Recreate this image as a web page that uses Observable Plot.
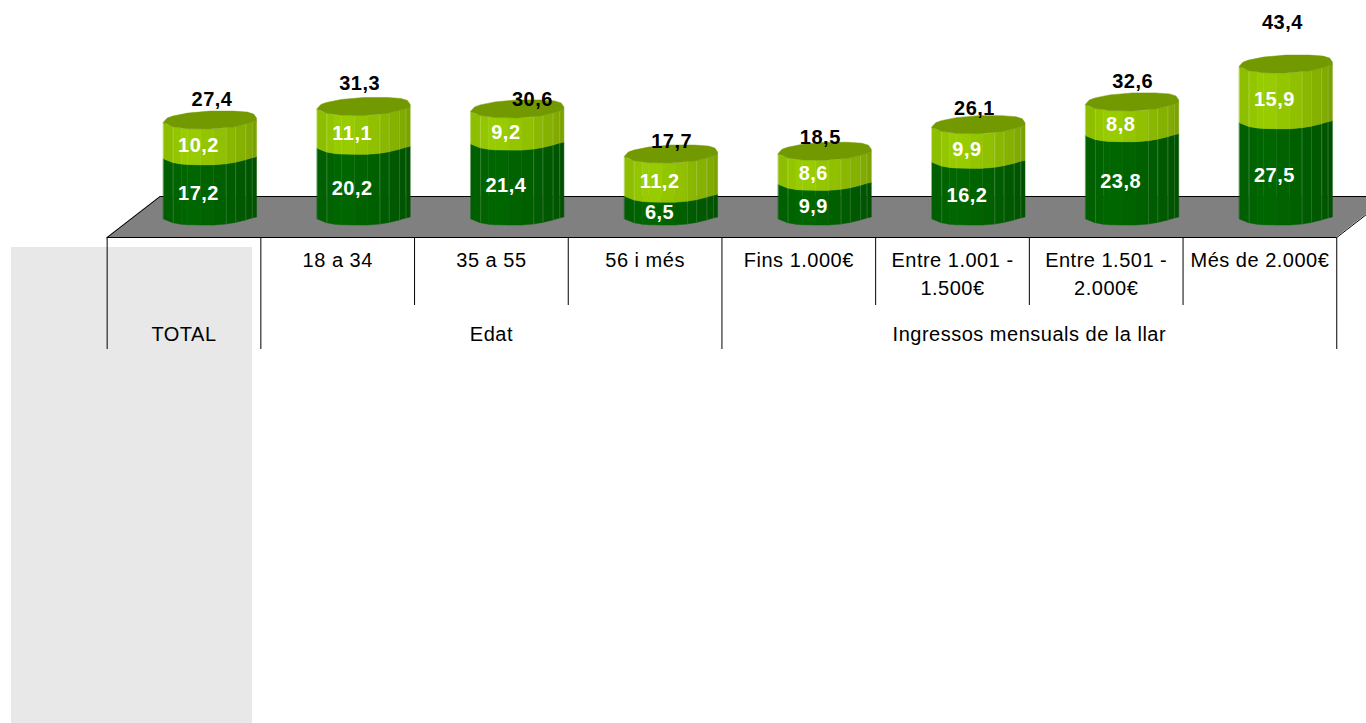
<!DOCTYPE html>
<html><head><meta charset="utf-8">
<style>html,body{margin:0;padding:0;background:#fff}svg{display:block;overflow:hidden}</style>
<script src="https://cdn.jsdelivr.net/npm/d3@7"></script>
<script src="https://cdn.jsdelivr.net/npm/@observablehq/plot@0.6"></script>
</head><body><div id="chart"></div>
<script>
// ---- data ----
const categories = ["TOTAL","18 a 34","35 a 55","56 i més","Fins 1.000€","Entre 1.001 -\n1.500€","Entre 1.501 -\n2.000€","Més de 2.000€"];
const lower = [17.2,20.2,21.4,6.5,9.9,16.2,23.8,27.5];
const upper = [10.2,11.1,9.2,11.2,8.6,9.9,8.8,15.9];
const totals = [27.4,31.3,30.6,17.7,18.5,26.1,32.6,43.4];
const groups = ["TOTAL","Edat","Ingressos mensuals de la llar"];

// ---- layout: scale factors, and the look of the drum (offsets in page px, down is positive) ----
const W = 1366, H = 723, pxY = 3.5, pxX = 153.7, x0 = 210, y0 = 225;
const halfBar = 46.5 / pxX, depth = 26.5 / pxX;
const lift = px => -px / pxY;              // page-down px offset to value units
const row = px => (y0 - px) / pxY;         // page row to value units
const col = px => (px - x0) / pxX;         // page column to category units
const cellX = k => k - .5 - depth;
const groupSpan = [[0,1],[1,4],[4,8]];
const fullRules = [0,1,4,8], shortRules = [2,3,5,6,7];
const facetT = [0,.1,.19,.26,.4,.54,.67,.77,.88,.95,1];
const facetOff = [-6,-2.3,-.8,-.3,0,0,-1,-2.5,-5,-7,-8];
const facetShade = [.93,.97,1,1,.97,.94,.9,.87,.84,.8];
const capT = [0,.04,.1,.26,.5,.75,.9,.97,1];
const capFront = [-6,-5,-2.3,-.3,0,-2,-5.5,-7.5,-8];
const capBack = [-7,-11,-13,-16,-18,-18,-17,-15,-11];
const totalShift = [1.5,-4.5,14.5,0,-5,-4.5,0,-4];
const totalLift = [30,32,19,22,23,26,30,51];
const comma = v => v.toFixed(1).replace(".",",");
const shade = ([r,g,b],k) => `rgb(${Math.round(r*k)},${Math.round(g*k)},${Math.round(b*k)})`;

const strips = [], caps = [], edges = [];
categories.forEach((c,i) => {
  const left = i - halfBar, w = 2*halfBar;
  [[0,lower[i],[0,102,0],"d"],[lower[i],totals[i],[153,204,0],"l"]].forEach(([a,b,rgb,k]) => {
    facetShade.forEach((s,j) => {
      const z = `${i}${k}${j}`, fill = shade(rgb,s);
      [j,j+1].forEach(n => strips.push({z, fill, x:left+facetT[n]*w, y1:a+lift(facetOff[n]), y2:b+lift(facetOff[n])}));
    });
    facetT.forEach((t,n) => { if (t>.6 && t<1 || t===.1)
      edges.push({x:left+t*w, y1:a+lift(facetOff[n]), y2:b+lift(facetOff[n])}); });
  });
  capT.forEach((t,j) => caps.push({z:i, x:left+t*w, y1:totals[i]+lift(capFront[j]), y2:totals[i]+lift(capBack[j])}));
});

const floor = [
  {x:-.5-depth, y1:row(237), y2:row(237)},
  {x:-.5+depth, y1:row(237), y2:row(196)},
  {x:7.5-depth, y1:row(237), y2:row(196)},
  {x:7.5+depth, y1:row(196), y2:row(196)}
];
const floorBack = [{x:floor[0].x,y:row(237)},{x:floor[1].x,y:row(196)},{x:floor[3].x,y:row(196)}];
const floorRight = [{x:floor[2].x,y:row(237)},{x:floor[3].x,y:row(196)}];
const ink = {stroke:"#000", strokeWidth:1};

const chart = Plot.plot({
  width:W, height:H, margin:0,
  style:{background:"#fff", fontFamily:"'Liberation Sans',Arial,sans-serif", letterSpacing:"0.5px"},
  color:{type:"identity"},
  x:{type:"linear", domain:[col(0),col(W)], range:[0,W], axis:null},
  y:{type:"linear", domain:[row(H),row(0)], range:[H,0], axis:null},
  marks:[
    Plot.rect([{x1:col(11),x2:col(252),y1:row(247),y2:row(H)}],{x1:"x1",x2:"x2",y1:"y1",y2:"y2",fill:"#e8e8e8"}),
    Plot.areaY(floor,{x:"x",y1:"y1",y2:"y2",fill:"#808080"}),
    Plot.line(floorBack,{x:"x",y:"y",...ink}),
    Plot.line(floorRight,{x:"x",y:"y",...ink}),
    Plot.ruleY([row(237)],{x1:()=>cellX(0),x2:()=>cellX(8),...ink}),
    Plot.ruleX(fullRules,{x:cellX,y1:()=>row(237),y2:()=>row(349),...ink}),
    Plot.ruleX(shortRules,{x:cellX,y1:()=>row(237),y2:()=>row(305),...ink}),
    Plot.areaY(strips,{x:"x",y1:"y1",y2:"y2",z:"z",fill:"fill",stroke:"fill",strokeWidth:.5}),
    Plot.ruleX(edges,{x:"x",y1:"y1",y2:"y2",stroke:"#fff",strokeOpacity:.15,strokeWidth:1}),
    Plot.areaY(caps,{x:"x",y1:"y1",y2:"y2",z:"z",fill:"#739900",stroke:"#739900",strokeWidth:.5}),
    Plot.text(categories.slice(1),{x:(d,i)=>i+1-depth, y:()=>row(246.5), text:d=>d, fontSize:20, fill:"#000", lineHeight:1.4, lineAnchor:"top"}),
    Plot.text(groups,{x:(d,i)=>(cellX(groupSpan[i][0])+cellX(groupSpan[i][1]))/2, y:()=>row(334), text:d=>d, fontSize:20, fill:"#000"}),
    Plot.text(lower,{x:(d,i)=>i-12/pxX, y:d=>d/2+lift(-2), text:comma, fontSize:20, fontWeight:"bold", fill:"#fff"}),
    Plot.text(upper,{x:(d,i)=>i-12/pxX, y:(d,i)=>lower[i]+d/2+lift(-2), text:comma, fontSize:20, fontWeight:"bold", fill:"#fff"}),
    Plot.text(totals,{x:(d,i)=>i+totalShift[i]/pxX, y:(d,i)=>d+lift(-totalLift[i]), text:comma, fontSize:20, fontWeight:"bold", fill:"#000"})
  ]
});
document.getElementById("chart").append(chart);
</script></body></html>
